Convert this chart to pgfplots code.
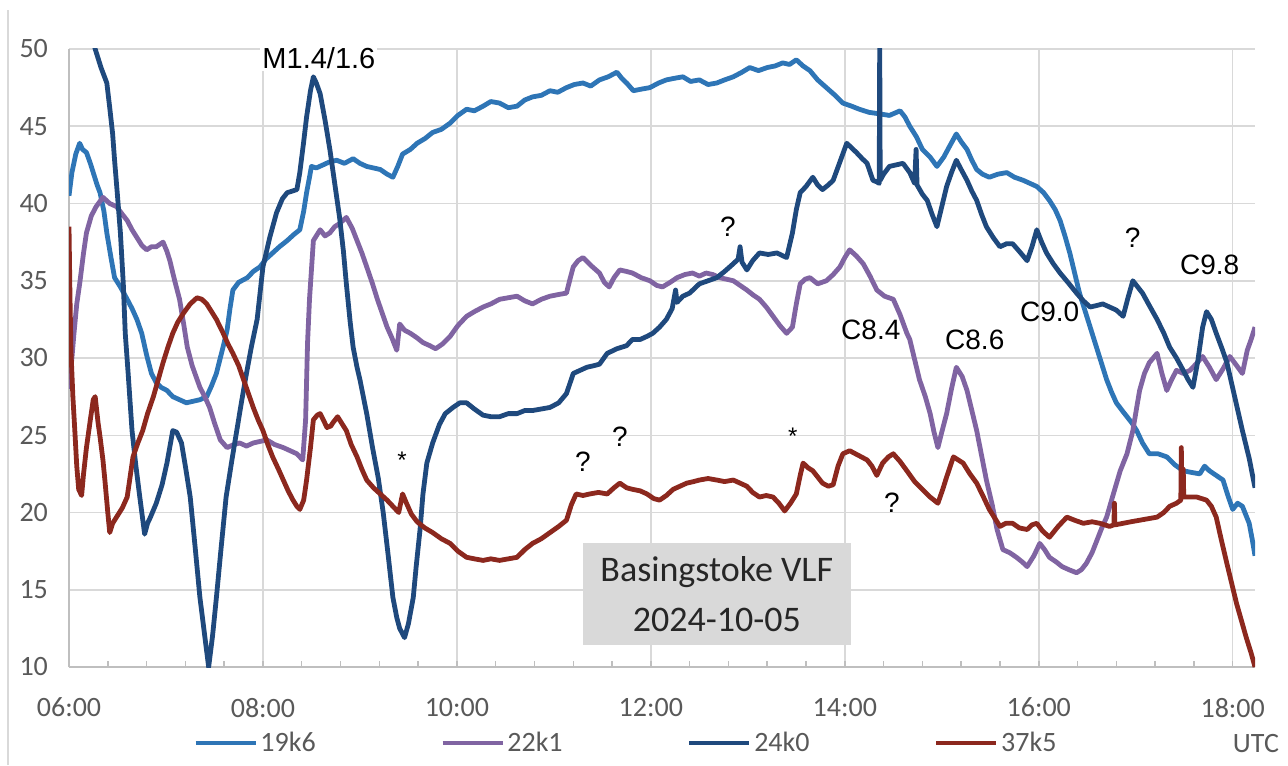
\documentclass[border=0pt]{standalone}
\usepackage{pgfplots}
\pgfplotsset{compat=1.18}
\usepackage{fontspec}
\setmainfont{Carlito}
\newfontfamily\arial{Liberation Sans}
\definecolor{c19}{RGB}{46,117,182}
\definecolor{c22}{RGB}{128,100,162}
\definecolor{c24}{RGB}{31,73,125}
\definecolor{c37}{RGB}{140,40,30}
\definecolor{gridgray}{RGB}{217,217,217}
\definecolor{axisgray}{RGB}{191,191,191}
\definecolor{labgray}{RGB}{89,89,89}
\definecolor{boxgray}{RGB}{217,217,217}
\begin{document}
\begin{tikzpicture}
\path[use as bounding box] (-34.5pt,-49pt) rectangle (609.5pt,333.5pt);
\draw[gridgray, line width=0.75pt] (-30.5pt,-49pt) -- (-30.5pt,328.5pt);
\begin{axis}[
  at={(0,0)}, anchor=south west,
  scale only axis, width=593pt, height=309pt,
  xmin=6, xmax=18.23, ymin=10, ymax=50,
  clip mode=individual,
  xtick={6,8,...,18},
  xticklabels={06:00,08:00,10:00,12:00,14:00,16:00,18:00},
  minor x tick num=4,
  ytick={10,15,...,50},
  axis x line*=bottom, axis y line*=left,
  axis line style={draw=axisgray, line width=0.9pt},
  xmajorgrids, ymajorgrids,
  grid style={gridgray, line width=0.75pt},
  major tick length=3pt, minor tick length=3pt,
  tick align=inside,
  xtick style={draw=axisgray, line width=0.75pt},
  minor tick style={draw=axisgray, line width=0.75pt},
  ytick style={draw=none},
  /pgf/number format/assume math mode=true,
  ticklabel style={font=\fontsize{14}{16}\selectfont, text=labgray},
  xticklabel style={yshift=-12pt},
  yticklabel style={xshift=-7pt},
  legend style={at={(0.4697,-0.123)}, anchor=center, draw=none, fill=none,
    font=\fontsize{14}{16}\selectfont, text=labgray, legend columns=4,
    nodes={inner xsep=1.2pt},
    /tikz/every even column/.append style={column sep=61pt}},
  legend image code/.code={\draw[#1] (0pt,0pt) -- (30pt,0pt);},
  every axis plot/.append style={line width=2.4pt, line join=round},
]
% 19k6
\addplot[c19] coordinates {
(6.00,40.5)(6.03,42.0)(6.07,43.2)(6.11,43.9)(6.14,43.5)(6.18,43.3)(6.22,42.6)(6.25,42.0)
(6.29,41.2)(6.32,40.7)(6.36,39.5)(6.39,38.1)(6.43,36.6)(6.47,35.2)(6.53,34.6)(6.60,33.8)
(6.65,33.2)(6.70,32.5)(6.75,31.6)(6.80,30.2)(6.85,29.0)(6.90,28.4)(6.95,28.1)(7.01,27.9)
(7.07,27.5)(7.14,27.3)(7.21,27.1)(7.28,27.2)(7.35,27.3)(7.42,27.5)(7.47,28.2)(7.52,29.0)
(7.56,30.0)(7.60,31.0)(7.63,31.8)(7.66,33.2)(7.69,34.4)(7.75,34.9)(7.84,35.2)(7.90,35.6)
(7.97,35.9)(8.03,36.4)(8.10,36.8)(8.17,37.2)(8.25,37.6)(8.32,38.0)(8.38,38.3)(8.42,39.5)
(8.45,40.7)(8.48,41.7)(8.50,42.4)(8.55,42.3)(8.62,42.5)(8.69,42.7)(8.76,42.8)(8.84,42.6)
(8.93,42.9)(9.00,42.6)(9.07,42.4)(9.14,42.3)(9.21,42.2)(9.28,41.9)(9.34,41.7)(9.39,42.4)
(9.44,43.2)(9.52,43.5)(9.59,43.9)(9.67,44.2)(9.75,44.6)(9.84,44.8)(9.93,45.2)(10.01,45.7)
(10.10,46.1)(10.18,46.0)(10.27,46.3)(10.35,46.6)(10.44,46.5)(10.53,46.2)(10.62,46.3)(10.70,46.7)
(10.78,46.9)(10.87,47.0)(10.96,47.3)(11.04,47.2)(11.13,47.5)(11.21,47.7)(11.30,47.8)(11.38,47.6)
(11.47,48.0)(11.56,48.2)(11.65,48.5)(11.70,48.1)(11.75,47.8)(11.82,47.3)(11.90,47.4)(11.99,47.5)
(12.08,47.8)(12.16,48.0)(12.24,48.1)(12.33,48.2)(12.41,47.9)(12.50,48.0)(12.59,47.7)(12.68,47.8)
(12.76,48.0)(12.85,48.2)(12.94,48.5)(13.02,48.8)(13.11,48.6)(13.20,48.8)(13.28,48.9)(13.36,49.1)
(13.43,49.0)(13.50,49.3)(13.57,48.9)(13.64,48.6)(13.72,48.0)(13.81,47.5)(13.90,47.0)(13.98,46.5)
(14.07,46.3)(14.15,46.1)(14.25,45.9)(14.36,45.8)(14.46,45.7)(14.57,46.0)(14.62,45.6)(14.67,45.0)
(14.74,44.3)(14.80,43.5)(14.88,43.0)(14.95,42.4)(15.02,43.0)(15.08,43.7)(15.15,44.5)(15.20,44.0)
(15.26,43.5)(15.31,42.8)(15.36,42.2)(15.42,41.9)(15.49,41.7)(15.58,41.9)(15.67,42.0)(15.75,41.7)
(15.84,41.5)(15.91,41.3)(15.98,41.1)(16.05,40.7)(16.11,40.2)(16.17,39.6)(16.22,38.9)(16.27,37.9)
(16.32,36.8)(16.37,35.5)(16.42,34.2)(16.48,33.0)(16.53,32.0)(16.57,31.2)(16.60,30.6)(16.65,29.6)
(16.70,28.6)(16.75,27.8)(16.80,27.1)(16.86,26.6)(16.91,26.2)(16.96,25.8)(17.01,25.3)(17.07,24.5)
(17.14,23.8)(17.23,23.8)(17.32,23.6)(17.40,23.1)(17.49,22.7)(17.57,22.6)(17.66,22.5)(17.71,23.0)
(17.76,22.7)(17.83,22.4)(17.90,22.1)(17.95,21.1)(18.00,20.2)(18.05,20.6)(18.10,20.4)(18.17,19.3)
(18.20,18.3)(18.23,17.2)
};
\addlegendentry{19k6}
% 22k1
\addplot[c22] coordinates {
(6.00,28.0)(6.03,30.0)(6.05,31.5)(6.08,33.5)(6.11,34.8)(6.15,36.8)(6.18,38.1)(6.23,39.2)
(6.28,39.8)(6.35,40.4)(6.42,40.0)(6.49,39.8)(6.55,39.3)(6.60,38.9)(6.65,38.3)(6.70,37.8)
(6.75,37.3)(6.80,37.0)(6.85,37.2)(6.90,37.2)(6.97,37.5)(7.01,36.9)(7.04,36.3)(7.09,35.0)
(7.14,33.8)(7.18,32.3)(7.22,30.7)(7.27,29.5)(7.31,28.8)(7.35,28.1)(7.40,27.5)(7.45,26.8)
(7.50,25.8)(7.56,24.7)(7.63,24.2)(7.70,24.4)(7.76,24.5)(7.83,24.3)(7.90,24.5)(7.97,24.6)
(8.04,24.7)(8.12,24.4)(8.21,24.2)(8.28,24.0)(8.35,23.8)(8.41,23.4)(8.44,26.0)(8.46,31.0)
(8.48,33.8)(8.52,37.6)(8.59,38.3)(8.64,37.9)(8.69,38.1)(8.74,38.5)(8.79,38.7)(8.86,39.1)
(8.92,38.4)(8.97,37.6)(9.02,36.8)(9.07,35.9)(9.13,34.8)(9.18,33.8)(9.23,32.9)(9.28,32.0)
(9.33,31.3)(9.38,30.5)(9.41,32.2)(9.46,31.8)(9.52,31.6)(9.59,31.3)(9.65,31.0)(9.72,30.8)
(9.78,30.6)(9.85,30.9)(9.93,31.4)(10.01,32.1)(10.10,32.7)(10.18,33.0)(10.27,33.3)(10.35,33.5)
(10.44,33.8)(10.53,33.9)(10.62,34.0)(10.70,33.7)(10.78,33.5)(10.87,33.8)(10.96,34.0)(11.04,34.1)
(11.13,34.2)(11.17,35.2)(11.20,35.9)(11.25,36.3)(11.30,36.5)(11.38,36.0)(11.47,35.5)(11.52,34.9)
(11.57,34.6)(11.62,35.2)(11.68,35.7)(11.75,35.6)(11.81,35.5)(11.90,35.2)(11.99,35.0)(12.06,34.7)
(12.12,34.6)(12.20,34.9)(12.27,35.2)(12.35,35.4)(12.43,35.5)(12.50,35.3)(12.57,35.5)(12.64,35.4)
(12.71,35.2)(12.78,35.1)(12.85,35.0)(12.92,34.7)(12.99,34.4)(13.05,34.1)(13.12,33.8)(13.19,33.3)
(13.26,32.7)(13.33,32.1)(13.40,31.6)(13.46,32.0)(13.50,33.5)(13.54,34.8)(13.59,35.1)(13.64,35.2)
(13.72,34.8)(13.81,35.0)(13.88,35.4)(13.95,35.9)(14.00,36.5)(14.05,37.0)(14.12,36.6)(14.19,36.1)
(14.26,35.3)(14.33,34.4)(14.41,34.0)(14.50,33.8)(14.57,32.8)(14.64,31.6)(14.67,31.2)(14.72,29.9)
(14.77,28.6)(14.83,27.5)(14.88,26.4)(14.92,25.2)(14.96,24.2)(15.00,25.2)(15.05,26.4)(15.10,28.0)
(15.15,29.4)(15.21,28.8)(15.26,27.9)(15.31,26.6)(15.36,25.3)(15.41,23.7)(15.46,22.1)(15.52,20.5)
(15.57,18.9)(15.63,17.6)(15.70,17.4)(15.77,17.1)(15.83,16.8)(15.88,16.5)(15.95,17.2)(16.01,18.0)
(16.06,17.6)(16.11,17.1)(16.18,16.8)(16.24,16.5)(16.31,16.3)(16.39,16.1)(16.44,16.3)(16.49,16.7)
(16.55,17.4)(16.60,18.2)(16.65,19.0)(16.70,19.7)(16.76,21.0)(16.84,22.7)(16.91,23.8)(16.97,25.3)
(17.01,26.8)(17.04,27.9)(17.09,29.0)(17.14,29.7)(17.22,30.3)(17.27,29.0)(17.32,27.9)(17.37,28.6)
(17.42,29.2)(17.49,29.0)(17.56,29.2)(17.62,29.6)(17.69,30.1)(17.76,29.4)(17.83,28.6)(17.90,29.3)
(17.97,30.1)(18.03,29.6)(18.10,29.0)(18.15,30.5)(18.19,31.2)(18.23,32.0)
};
\addlegendentry{22k1}
% 24k0
\addplot[c24] coordinates {
(6.00,57.0)(6.15,53.0)(6.27,50.0)(6.33,48.8)(6.39,47.8)(6.42,46.2)(6.45,44.5)(6.47,42.8)
(6.50,40.5)(6.53,38.1)(6.56,34.8)(6.58,31.6)(6.61,29.0)(6.65,25.3)(6.69,23.0)(6.73,21.0)
(6.78,18.6)(6.81,19.3)(6.84,19.7)(6.90,20.6)(6.96,21.8)(7.01,23.2)(7.07,25.3)(7.11,25.2)
(7.16,24.5)(7.20,23.0)(7.25,21.0)(7.30,17.8)(7.35,14.5)(7.40,12.0)(7.44,10.0)(7.48,12.0)
(7.52,14.5)(7.57,17.8)(7.62,21.0)(7.68,23.4)(7.73,25.3)(7.78,27.2)(7.83,29.0)(7.88,30.7)
(7.94,32.5)(8.00,35.9)(8.07,37.8)(8.14,39.4)(8.20,40.3)(8.25,40.7)(8.30,40.8)(8.35,40.9)
(8.38,42.0)(8.42,44.0)(8.45,45.6)(8.49,47.3)(8.52,48.2)(8.55,47.8)(8.59,47.1)(8.64,45.4)
(8.69,43.5)(8.74,41.3)(8.79,39.1)(8.83,36.9)(8.86,34.8)(8.90,32.3)(8.93,30.7)(8.97,29.4)
(9.00,28.6)(9.07,26.4)(9.13,24.2)(9.19,22.2)(9.24,20.0)(9.29,17.3)(9.34,14.5)(9.38,13.2)
(9.41,12.5)(9.46,11.9)(9.50,12.8)(9.55,14.5)(9.58,16.5)(9.62,18.9)(9.65,21.2)(9.69,23.2)
(9.75,24.5)(9.82,25.7)(9.88,26.4)(9.96,26.8)(10.03,27.1)(10.10,27.1)(10.18,26.7)(10.27,26.3)
(10.35,26.2)(10.44,26.2)(10.53,26.4)(10.62,26.4)(10.70,26.6)(10.78,26.6)(10.87,26.7)(10.96,26.8)
(11.05,27.1)(11.13,27.7)(11.20,29.0)(11.27,29.2)(11.34,29.4)(11.41,29.5)(11.47,29.6)(11.55,30.3)
(11.65,30.6)(11.75,30.8)(11.81,31.2)(11.89,31.2)(11.96,31.4)(12.02,31.6)(12.09,32.0)(12.16,32.5)
(12.22,33.2)(12.255,34.4)(12.27,33.6)(12.33,34.0)(12.40,34.2)(12.45,34.5)(12.50,34.8)(12.59,35.0)
(12.68,35.2)(12.76,35.6)(12.85,36.1)(12.90,36.4)(12.92,37.2)(12.94,36.2)(12.99,35.7)(13.05,36.3)
(13.12,36.8)(13.21,36.7)(13.30,36.8)(13.40,36.5)(13.46,38.1)(13.50,39.6)(13.54,40.7)(13.60,41.1)
(13.67,41.7)(13.72,41.2)(13.77,40.9)(13.83,41.2)(13.88,41.5)(13.95,42.7)(14.02,43.9)(14.07,43.6)
(14.12,43.3)(14.18,42.9)(14.23,42.6)(14.29,41.5)(14.33,41.4)(14.355,41.3)(14.36,50.5)(14.365,41.5)
(14.40,41.9)(14.46,42.4)(14.53,42.5)(14.60,42.6)(14.67,42.0)(14.72,41.3)(14.735,43.5)(14.745,41.2)
(14.80,40.6)(14.85,40.2)(14.90,39.3)(14.95,38.5)(15.00,39.8)(15.05,41.1)(15.10,42.0)(15.15,42.8)
(15.20,42.2)(15.26,41.5)(15.31,40.8)(15.36,40.2)(15.41,39.3)(15.46,38.5)(15.53,37.8)(15.60,37.2)
(15.67,37.4)(15.73,37.4)(15.80,36.9)(15.88,36.3)(15.93,37.2)(15.98,38.3)(16.03,37.5)(16.08,36.8)
(16.15,36.1)(16.22,35.5)(16.30,34.9)(16.39,34.2)(16.46,33.7)(16.53,33.3)(16.60,33.4)(16.66,33.5)
(16.73,33.3)(16.80,33.1)(16.87,32.7)(16.92,33.9)(16.97,35.0)(17.02,34.6)(17.07,34.2)(17.14,33.4)
(17.22,32.5)(17.29,31.6)(17.35,30.7)(17.42,30.0)(17.49,29.2)(17.54,28.6)(17.59,28.1)(17.64,29.8)
(17.69,32.0)(17.73,33.0)(17.78,32.5)(17.83,31.6)(17.89,30.6)(17.94,29.7)(18.02,27.5)(18.10,25.3)
(18.17,23.5)(18.23,21.6)
};
\addlegendentry{24k0}
% 37k5
\addplot[c37] coordinates {
(6.00,38.5)(6.01,34.0)(6.02,30.5)(6.04,27.5)(6.06,25.3)(6.08,23.0)(6.10,21.5)(6.13,21.1)
(6.15,22.5)(6.18,24.2)(6.22,26.0)(6.25,27.3)(6.27,27.5)(6.30,25.8)(6.32,24.9)(6.35,23.4)
(6.37,22.1)(6.40,20.0)(6.42,18.7)(6.45,19.3)(6.49,19.7)(6.55,20.3)(6.60,21.0)(6.63,22.3)
(6.66,23.6)(6.71,24.5)(6.76,25.3)(6.81,26.4)(6.87,27.5)(6.92,28.6)(6.97,29.7)(7.02,30.7)
(7.07,31.6)(7.12,32.3)(7.18,32.9)(7.25,33.5)(7.32,33.9)(7.37,33.8)(7.42,33.5)(7.47,33.0)
(7.52,32.5)(7.59,31.6)(7.64,30.9)(7.69,30.3)(7.75,29.5)(7.80,28.6)(7.85,27.7)(7.90,26.8)
(7.95,26.0)(8.00,25.3)(8.05,24.4)(8.10,23.6)(8.16,22.8)(8.21,22.1)(8.26,21.4)(8.31,20.8)
(8.35,20.4)(8.38,20.2)(8.42,20.8)(8.45,22.1)(8.49,24.2)(8.52,26.0)(8.56,26.3)(8.59,26.4)
(8.63,25.9)(8.66,25.5)(8.70,25.6)(8.72,25.8)(8.77,26.2)(8.81,25.8)(8.86,25.3)(8.91,24.4)
(8.97,23.6)(9.02,22.8)(9.07,22.1)(9.14,21.6)(9.21,21.2)(9.28,20.8)(9.34,20.4)(9.40,20.0)
(9.44,21.2)(9.48,20.6)(9.53,19.9)(9.59,19.4)(9.67,19.0)(9.75,18.7)(9.84,18.3)(9.93,18.0)
(10.01,17.5)(10.10,17.1)(10.18,17.0)(10.27,16.9)(10.35,17.0)(10.44,16.9)(10.53,17.0)(10.62,17.1)
(10.70,17.6)(10.78,18.0)(10.87,18.3)(10.96,18.7)(11.05,19.1)(11.13,19.5)(11.18,20.5)(11.23,21.2)
(11.30,21.1)(11.37,21.2)(11.46,21.3)(11.55,21.2)(11.62,21.6)(11.68,21.9)(11.75,21.6)(11.81,21.5)
(11.89,21.4)(11.96,21.2)(12.03,20.9)(12.09,20.8)(12.16,21.1)(12.23,21.5)(12.30,21.7)(12.37,21.9)
(12.44,22.0)(12.50,22.1)(12.59,22.2)(12.68,22.1)(12.76,22.0)(12.85,22.1)(12.92,21.9)(12.99,21.7)
(13.05,21.3)(13.12,21.0)(13.19,21.1)(13.26,21.0)(13.32,20.6)(13.38,20.1)(13.44,20.6)(13.50,21.2)
(13.54,22.4)(13.57,23.2)(13.62,22.9)(13.67,22.7)(13.72,22.3)(13.77,21.9)(13.83,21.7)(13.88,21.8)
(13.93,23.0)(13.98,23.8)(14.05,24.0)(14.14,23.7)(14.23,23.4)(14.28,23.0)(14.33,22.4)(14.36,22.8)
(14.39,23.2)(14.45,23.6)(14.50,23.8)(14.57,23.3)(14.64,22.7)(14.72,22.0)(14.80,21.5)(14.88,21.0)
(14.96,20.6)(15.01,21.5)(15.05,22.3)(15.12,23.6)(15.17,23.4)(15.22,23.2)(15.29,22.5)(15.36,21.9)
(15.43,21.0)(15.49,20.2)(15.55,19.6)(15.60,19.1)(15.66,19.3)(15.73,19.3)(15.80,19.0)(15.88,18.9)
(15.93,19.2)(15.98,19.3)(16.04,18.8)(16.11,18.4)(16.20,19.1)(16.29,19.7)(16.37,19.5)(16.46,19.3)
(16.55,19.4)(16.63,19.3)(16.73,19.1)(16.775,19.2)(16.78,20.6)(16.785,19.2)(16.87,19.3)(16.95,19.4)
(17.04,19.5)(17.13,19.6)(17.22,19.7)(17.29,20.0)(17.35,20.4)(17.42,20.6)(17.465,20.8)(17.47,24.2)
(17.475,21.0)(17.49,22.8)(17.495,21.0)(17.56,21.0)(17.63,21.0)(17.68,20.9)(17.73,20.8)(17.78,20.4)
(17.83,19.7)(17.88,18.3)(17.94,16.7)(17.99,15.4)(18.04,14.1)(18.09,13.0)(18.14,11.9)(18.19,10.9)
(18.23,10.0)
};
\addlegendentry{37k5}
% event labels
\node[font=\arial\fontsize{14.5}{16}\selectfont, fill=white, inner sep=1pt] at (axis cs:8.577,49.42) {M1.4/1.6};
\node[font=\arial\fontsize{14}{16}\selectfont] at (axis cs:14.268,31.81) {C8.4};
\node[font=\arial\fontsize{14}{16}\selectfont] at (axis cs:15.34,31.17) {C8.6};
\node[font=\arial\fontsize{14}{16}\selectfont] at (axis cs:16.113,32.98) {C9.0};
\node[font=\arial\fontsize{14}{16}\selectfont] at (axis cs:17.763,36.02) {C9.8};
\node[font=\arial\fontsize{14}{16}\selectfont] at (axis cs:12.794,38.48) {?};
\node[font=\arial\fontsize{14}{16}\selectfont] at (axis cs:16.969,37.77) {?};
\node[font=\arial\fontsize{14}{16}\selectfont] at (axis cs:11.299,23.27) {?};
\node[font=\arial\fontsize{14}{16}\selectfont] at (axis cs:11.68,24.89) {?};
\node[font=\arial\fontsize{14}{16}\selectfont] at (axis cs:14.485,20.61) {?};
\node[font=\arial\fontsize{12}{14}\selectfont] at (axis cs:9.433,23.4) {*};
\node[font=\arial\fontsize{12}{14}\selectfont] at (axis cs:13.464,24.95) {*};
% station and date
\node[fill=boxgray, minimum width=134pt, minimum height=51pt, align=center,
      font=\fontsize{18}{25}\selectfont, text=black!85, inner sep=0pt]
      at (axis cs:12.68,14.72) {Basingstoke VLF\\2024-10-05};
\node[font=\fontsize{14}{16}\selectfont, text=labgray] at (rel axis cs:1.0008,-0.123) {UTC};
\end{axis}
\end{tikzpicture}
\end{document}
